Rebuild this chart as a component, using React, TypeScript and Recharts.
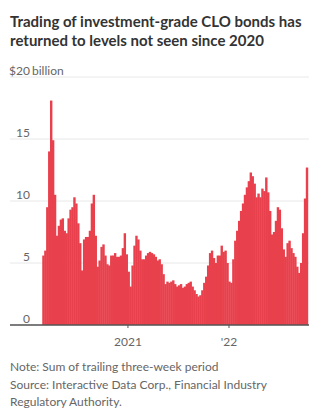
import React from 'react';
import { BarChart, Bar, XAxis, YAxis, CartesianGrid } from 'recharts';

// Weekly trading volume, sum of trailing three weeks ($ billion), from early March 2020
const firstWeek = Date.UTC(2020, 2, 1);
const volumes = [
  5.6, 6.0, 9.5, 14.0, 18.1, 14.9, 10.5, 7.2, 8.0, 8.5,
  8.6, 7.6, 7.4, 8.6, 9.3, 9.5, 10.3, 9.8, 8.2, 6.6,
  4.4, 6.9, 7.1, 7.1, 7.6, 9.8, 10.5, 7.2, 4.7, 5.2,
  6.3, 6.5, 5.6, 4.9, 4.8, 5.6, 5.6, 5.8, 5.5, 5.5,
  5.6, 6.2, 7.4, 5.7, 4.3, 3.1, 4.8, 6.4, 7.2, 6.9,
  6.0, 5.3, 5.3, 5.6, 5.8, 5.9, 5.8, 5.7, 5.5, 5.2,
  5.3, 4.9, 4.1, 3.3, 3.5, 3.4, 3.5, 3.6, 3.3, 3.1,
  3.2, 3.3, 3.0, 3.1, 3.3, 3.4, 3.5, 3.1, 2.8, 2.5,
  2.3, 2.4, 2.8, 3.4, 3.9, 4.8, 5.8, 6.0, 5.4, 5.0,
  5.6, 5.6, 6.4, 5.9, 6.0, 5.0, 3.5, 3.4, 5.3, 6.8,
  7.6, 8.4, 9.2, 9.8, 10.5, 11.1, 11.6, 12.3, 12.0, 11.4,
  10.3, 10.6, 10.3, 11.0, 10.8, 11.9, 10.7, 9.2, 7.3, 7.5,
  8.4, 9.5, 9.3, 7.8, 6.1, 5.5, 6.6, 6.8, 6.2, 5.8,
  5.5, 4.7, 4.2, 5.0, 7.4, 10.2, 12.7,
];

const yTicks = [0, 5, 10, 15, 20];
const xTickYears = [2021, 2022];
const xTickLabels = ['2021', "'22"];

const DAY = 86400000;
const data = volumes.map((v, i) => ({ t: firstWeek + i * 7 * DAY, v }));
const xTicks = xTickYears.map((y) => Date.UTC(y, 0, 1));
const domainStart = xTicks[0] - 426 * DAY;
const domainEnd = xTicks[1] + 289 * DAY;

const grey = '#666';
const red = '#e8414d';
const font = 'Lato, "Noto Sans", sans-serif';

const YTick = ({ y, payload }: any) => {
  if (payload.value === 20) {
    return (
      <g>
        <text x={30} y={y - 2} textAnchor="end" fontSize={12} fill={grey} fontFamily={font}>$20</text>
        <text x={32} y={y - 2} textAnchor="start" fontSize={12} fill={grey} fontFamily={font}>billion</text>
      </g>
    );
  }
  return (
    <text x={30} y={y - 2.5} textAnchor="end" fontSize={12} fill={grey} fontFamily={font}>
      {payload.value}
    </text>
  );
};

const XTick = ({ x, y, payload }: any) => {
  const idx = xTicks.indexOf(payload.value);
  return (
    <text x={x} y={y + 16} textAnchor="middle" fontSize={12} fill={grey} fontFamily={font}>
      {xTickLabels[idx]}
    </text>
  );
};

// widen each bar a touch so neighbouring weeks merge into a solid mass
const WideBar = ({ x, y, width, height }: any) => {
  const cx = x + width / 2;
  return <rect x={cx - 1.2} y={y} width={2.4} height={height} fill={red} />;
};

export default function App() {
  return (
    <div style={{ position: 'fixed', left: 0, top: 0, width: 322, height: 413, background: '#fff', fontFamily: font }}>
      <div style={{ position: 'absolute', left: 10, top: 12, width: 312, fontSize: 15, fontWeight: 700, lineHeight: '19px', color: '#333' }}>
        Trading of investment-grade CLO bonds has returned to levels not seen since 2020
      </div>
      <div style={{ position: 'absolute', left: 0, top: 0 }}>
        <BarChart width={322} height={350} data={data} margin={{ top: 77, right: 13, bottom: 5, left: -10 }}>
          <CartesianGrid vertical={false} stroke="#e8e8e8" />
          <YAxis
            domain={[0, 20]}
            ticks={yTicks}
            width={20}
            axisLine={false}
            tickLine={false}
            tick={<YTick />}
            interval={0}
          />
          <XAxis
            dataKey="t"
            type="number"
            scale="time"
            domain={[domainStart, domainEnd]}
            ticks={xTicks}
            height={20}
            axisLine={{ stroke: '#555', strokeWidth: 1.5 }}
            tickLine={{ stroke: '#555' }}
            tickSize={3}
            tick={<XTick />}
            interval={0}
          />
          <Bar dataKey="v" fill={red} shape={<WideBar />} isAnimationActive={false} />
        </BarChart>
      </div>
      <div style={{ position: 'absolute', left: 10, top: 358, fontSize: 12, lineHeight: '17.5px', color: grey }}>
        Note: Sum of trailing three-week period
        <br />
        Source: Interactive Data Corp., Financial Industry Regulatory Authority.
      </div>
    </div>
  );
}
